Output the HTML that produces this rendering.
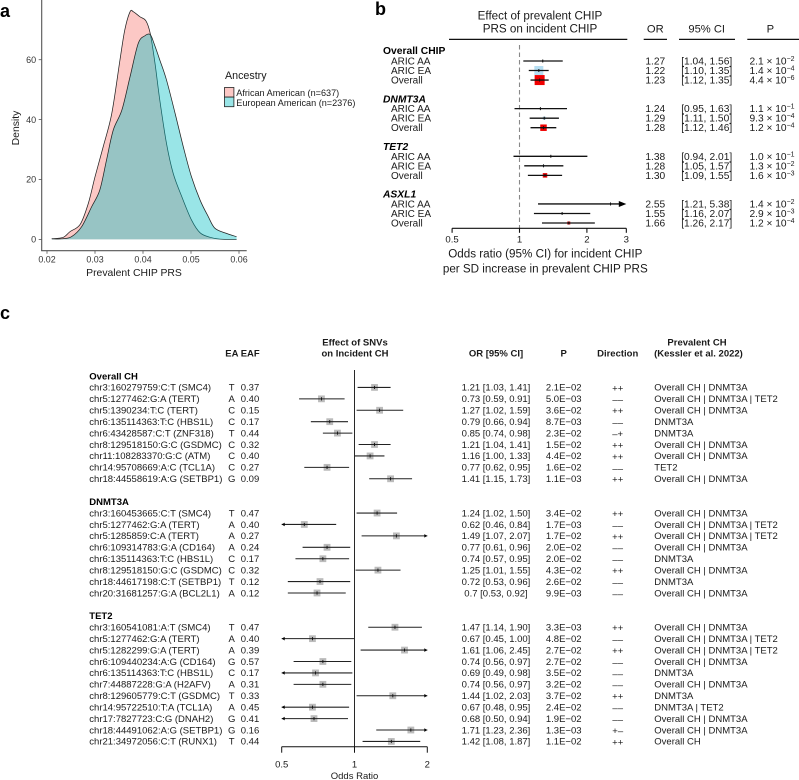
<!DOCTYPE html>
<html lang="en">
<head>
<meta charset="utf-8">
<title>Prevalent and incident CHIP figure</title>
<style>
html,body{margin:0;padding:0;background:#fff;}
svg{display:block;font-family:"Liberation Sans",Arial,sans-serif;filter:blur(0.3px);}
text{fill:#1a1a1a;}
</style>
</head>
<body>
<svg id="fig" xmlns="http://www.w3.org/2000/svg" width="799" height="780" viewBox="0 0 799 780">
  <rect x="0" y="0" width="799" height="780" fill="#fff"/>
  <text x="0" y="17" font-size="18" font-weight="bold" style="fill:#000">a</text>
  <text x="375" y="15" font-size="18" font-weight="bold" style="fill:#000">b</text>
  <text x="0" y="319" font-size="18" font-weight="bold" style="fill:#000">c</text>

  <g id="panelA">
    <text x="134" y="276" font-size="10.4" text-anchor="middle">Prevalent CHIP PRS</text>
    <text transform="translate(19,128) rotate(-90)" font-size="10.4" text-anchor="middle">Density</text>
    <text x="225" y="79" font-size="10.7">Ancestry</text>
    <rect x="224.5" y="87.5" width="9.4" height="9.6" fill="#FCC8C5" stroke="#222" stroke-width="0.8"/>
    <rect x="224.5" y="97.1" width="9.4" height="9.6" fill="#99E5E7" stroke="#222" stroke-width="0.8"/>
    <text x="236.3" y="95.8" font-size="9.1">African American (n=637)</text>
    <text x="236.3" y="105.8" font-size="9.1">European American (n=2376)</text>
  </g>

  <g id="panelB">
    <text x="540" y="19.3" font-size="11.65" text-anchor="middle">Effect of prevalent CHIP</text>
    <text x="540" y="32.7" font-size="11.65" text-anchor="middle">PRS on incident CHIP</text>
    <text x="655.3" y="32.7" font-size="11.2" text-anchor="middle">OR</text>
    <text x="706.7" y="32.7" font-size="11.2" text-anchor="middle">95% CI</text>
    <text x="770.3" y="32.7" font-size="11.2" text-anchor="middle">P</text>
    <line x1="449" x2="627.3" y1="39.4" y2="39.4" stroke="#111" stroke-width="1.2"/>
    <line x1="643.7" x2="667" y1="39.4" y2="39.4" stroke="#111" stroke-width="1.2"/>
    <line x1="679" x2="735" y1="39.4" y2="39.4" stroke="#111" stroke-width="1.2"/>
    <line x1="747.3" x2="799" y1="39.4" y2="39.4" stroke="#111" stroke-width="1.2"/>
    <text x="545.3" y="257.3" font-size="11.65" text-anchor="middle">Odds ratio (95% CI) for incident CHIP</text>
    <text x="545.3" y="272.3" font-size="11.65" text-anchor="middle">per SD increase in prevalent CHIP PRS</text>
  </g>

  <g id="panelC">
    <g font-size="9.5" font-weight="bold">
      <text x="225.3" y="356.7">EA</text>
      <text x="240.7" y="356.7">EAF</text>
      <text x="355" y="345.3" text-anchor="middle">Effect of SNVs</text>
      <text x="355" y="356.7" text-anchor="middle">on Incident CH</text>
      <text x="496" y="356.7" text-anchor="middle">OR [95% CI]</text>
      <text x="563.7" y="356.7" text-anchor="middle">P</text>
      <text x="617.7" y="356.7" text-anchor="middle">Direction</text>
      <text x="697" y="345.3" text-anchor="middle">Prevalent CH</text>
      <text x="698.5" y="356.7" text-anchor="middle">(Kessler et al. 2022)</text>
    </g>
    <text x="354.5" y="779" font-size="9.5" text-anchor="middle">Odds Ratio</text>
  </g>
</svg>

<script>
// ---------- Panel a: density curves ----------
var densityXTicks = [0.02, 0.03, 0.04, 0.05, 0.06];
var densityYTicks = [0, 20, 40, 60];
var africanPrs = [0.0210,0.0234,0.0248,0.0269,0.0286,0.0300,0.0317,0.0335,0.0352,0.0362,0.0373,0.0380,0.0394,0.0406,0.0415,0.0425,0.0435,0.0449,0.0463,0.0481,0.0501,0.0519,0.0540,0.0560,0.0595];
var africanDensity = [0.2,0.7,2.6,5.0,12.0,20.9,30.9,42.1,59.9,69.9,76.0,76.0,74.3,73.0,68.8,58.8,46.5,32.0,22.0,14.2,6.5,2.2,0.7,0.1,0.0];
var europeanPrs = [0.0210,0.0231,0.0251,0.0272,0.0293,0.0310,0.0324,0.0338,0.0356,0.0373,0.0390,0.0404,0.0415,0.0423,0.0435,0.0449,0.0467,0.0484,0.0501,0.0519,0.0536,0.0550,0.0574,0.0595];
var europeanDensity = [0.2,0.2,0.9,4.2,10.9,16.5,26.5,36.5,43.2,54.3,65.4,68.0,68.4,65.4,59.9,53.2,42.0,30.9,20.9,13.1,7.6,3.7,2.0,0.9];

// ---------- Panel b: PRS forest ----------
var prsGroups = ["Overall CHIP", "DNMT3A", "TET2", "ASXL1"];
var prsCohorts = ["ARIC AA", "ARIC EA", "Overall"];
var prsOr = [1.27,1.22,1.23, 1.24,1.29,1.28, 1.38,1.28,1.30, 2.55,1.55,1.66];
var prsLow = [1.04,1.10,1.12, 0.95,1.11,1.12, 0.94,1.05,1.09, 1.21,1.16,1.26];
var prsHigh = [1.56,1.35,1.35, 1.63,1.50,1.46, 2.01,1.57,1.55, 5.38,2.07,2.17];
var prsPMantissa = ["2.1","1.4","4.4", "1.1","9.3","1.2", "1.0","1.3","1.6", "1.4","2.9","1.2"];
var prsPExponent = [-2,-4,-6, -1,-4,-4, -1,-2,-3, -2,-3,-4];
var prsWeight = [2,81,100, 2,9,42, 1,4,20, 1,1,9];
var prsAxisTicks = [0.5, 1, 2, 3];

// ---------- Panel c: SNV forest ----------
var snvGroups = ["Overall CH", "DNMT3A", "TET2"];
var snvGroupSizes = [9, 8, 11];
var snvLabels = [
"chr3:160279759:C:T (SMC4)","chr5:1277462:G:A (TERT)","chr5:1390234:T:C (TERT)","chr6:135114363:T:C (HBS1L)","chr6:43428587:C:T (ZNF318)","chr8:129518150:G:C (GSDMC)","chr11:108283370:G:C (ATM)","chr14:95708669:A:C (TCL1A)","chr18:44558619:A:G (SETBP1)",
"chr3:160453665:C:T (SMC4)","chr5:1277462:G:A (TERT)","chr5:1285859:C:A (TERT)","chr6:109314783:G:A (CD164)","chr6:135114363:T:C (HBS1L)","chr8:129518150:G:C (GSDMC)","chr18:44617198:C:T (SETBP1)","chr20:31681257:G:A (BCL2L1)",
"chr3:160541081:A:T (SMC4)","chr5:1277462:G:A (TERT)","chr5:1282299:G:A (TERT)","chr6:109440234:A:G (CD164)","chr6:135114363:T:C (HBS1L)","chr7:44887228:G:A (H2AFV)","chr8:129605779:C:T (GSDMC)","chr14:95722510:T:A (TCL1A)","chr17:7827723:C:G (DNAH2)","chr18:44491062:A:G (SETBP1)","chr21:34972056:C:T (RUNX1)"];
var snvEffectAllele = ["T","A","C","C","T","C","C","C","G", "T","A","A","A","C","C","T","A", "T","A","A","G","C","A","T","A","G","G","T"];
var snvEaf = ["0.37","0.40","0.15","0.17","0.44","0.32","0.40","0.27","0.09", "0.47","0.40","0.27","0.24","0.17","0.32","0.12","0.12", "0.47","0.40","0.39","0.57","0.17","0.31","0.33","0.45","0.41","0.16","0.44"];
var snvOr = [1.21,0.73,1.27,0.79,0.85,1.21,1.16,0.77,1.41, 1.24,0.62,1.49,0.77,0.74,1.25,0.72,0.7, 1.47,0.67,1.61,0.74,0.69,0.74,1.44,0.67,0.68,1.71,1.42];
var snvLow = [1.03,0.59,1.02,0.66,0.74,1.04,1.00,0.62,1.15, 1.02,0.46,1.07,0.61,0.57,1.01,0.53,0.53, 1.14,0.45,1.06,0.56,0.49,0.56,1.02,0.48,0.50,1.23,1.08];
var snvHigh = [1.41,0.91,1.59,0.94,0.98,1.41,1.33,0.95,1.73, 1.50,0.84,2.07,0.96,0.95,1.55,0.96,0.92, 1.90,1.00,2.45,0.97,0.98,0.97,2.03,0.95,0.94,2.36,1.87];
var snvP = ["2.1E−02","5.0E−03","3.6E−02","8.7E−03","2.3E−02","1.5E−02","4.4E−02","1.6E−02","1.1E−03", "3.4E−02","1.7E−03","1.7E−02","2.0E−02","2.0E−02","4.3E−02","2.6E−02","9.9E−03", "3.3E−03","4.8E−02","2.7E−02","2.7E−02","3.5E−02","3.2E−02","3.7E−02","2.4E−02","1.9E−02","1.3E−03","1.1E−02"];
var snvDirection = ["++","––","++","––","–+","++","++","––","++", "++","––","++","––","––","++","––","––", "++","––","++","––","––","––","++","––","––","+–","++"];
var snvPrevalent = ["Overall CH | DNMT3A","Overall CH | DNMT3A | TET2","Overall CH | DNMT3A","DNMT3A","DNMT3A","Overall CH | DNMT3A","Overall CH | DNMT3A","TET2","Overall CH | DNMT3A",
"Overall CH | DNMT3A","Overall CH | DNMT3A | TET2","Overall CH | DNMT3A | TET2","Overall CH | DNMT3A","DNMT3A","Overall CH | DNMT3A","DNMT3A","Overall CH | DNMT3A",
"Overall CH | DNMT3A","Overall CH | DNMT3A | TET2","Overall CH | DNMT3A | TET2","Overall CH | DNMT3A","DNMT3A","Overall CH | DNMT3A","DNMT3A","DNMT3A | TET2","Overall CH | DNMT3A","Overall CH | DNMT3A","Overall CH"];
var snvAxisTicks = [0.5, 1, 2];

var NS = "http://www.w3.org/2000/svg";
function make(parent, tag, name, attrs, content) {
  var el = document.createElementNS(NS, tag);
  for (var k in attrs) { el.setAttribute(k, attrs[k]); }
  
  
  if (content !== undefined) { el.textContent = content; }
  parent.appendChild(el);
  return el;
}
function line(parent, name, x1, y1, x2, y2, color, width) {
  return make(parent, "line", name, {x1:x1, y1:y1, x2:x2, y2:y2, stroke:color, "stroke-width":width});
}
function label(parent, name, x, y, size, anchor, content, extra) {
  var a = {x:x, y:y, "font-size":size, "text-anchor":anchor};
  for (var k in (extra || {})) { a[k] = extra[k]; }
  return make(parent, "text", name, a, content);
}

// ---- Panel a drawing ----
var panelA = document.getElementById("panelA");
function densX(v) { return 47 + (v - 0.02) * 4800; }
function densY(v) { return 239.4 - v * 2.995; }
function curveD(xs, ys) {
  var pts = xs.map(function (x, i) { return [densX(x), densY(ys[i])]; });
  var d = "M" + pts[0][0].toFixed(2) + " " + pts[0][1].toFixed(2);
  for (var i = 0; i < pts.length - 1; i++) {
    var p0 = pts[Math.max(0, i - 1)], p1 = pts[i], p2 = pts[i + 1], p3 = pts[Math.min(pts.length - 1, i + 2)];
    var c1x = p1[0] + (p2[0] - p0[0]) / 6, c1y = p1[1] + (p2[1] - p0[1]) / 6;
    var c2x = p2[0] - (p3[0] - p1[0]) / 6, c2y = p2[1] - (p3[1] - p1[1]) / 6;
    d += "C" + c1x.toFixed(2) + " " + c1y.toFixed(2) + " " + c2x.toFixed(2) + " " + c2y.toFixed(2) + " " + p2[0].toFixed(2) + " " + p2[1].toFixed(2);
  }
  return d;
}
function drawDensity(name, xs, ys, color) {
  var d = curveD(xs, ys);
  var base = " L" + densX(xs[xs.length - 1]).toFixed(2) + " " + densY(0) + " L" + densX(xs[0]).toFixed(2) + " " + densY(0) + "Z";
  make(panelA, "path", name + "-fill", {d: d + base, fill: color, "fill-opacity": 0.4, stroke: "none"});
  make(panelA, "path", name + "-line", {d: d, fill: "none", stroke: "#222", "stroke-width": 0.75});
}
drawDensity("density-african-american", africanPrs, africanDensity, "#F8766D");
drawDensity("density-european-american", europeanPrs, europeanDensity, "#00BFC4");
line(panelA, "density-y-axis", 41.7, 0, 41.7, 251, "#555", 1.1);
line(panelA, "density-x-axis", 41.2, 250.7, 246.7, 250.7, "#555", 1.1);
densityYTicks.forEach(function (t) {
  line(panelA, "density-y-tick", 38.7, densY(t), 41.7, densY(t), "#555", 0.8);
  label(panelA, "density-y-tick-label", 36.2, densY(t) + 3.2, 9, "end", String(t), {style: "fill:#333"});
});
densityXTicks.forEach(function (t) {
  line(panelA, "density-x-tick", densX(t), 250.7, densX(t), 253.7, "#555", 0.8);
  label(panelA, "density-x-tick-label", densX(t), 262.7, 8.9, "middle", t.toFixed(2), {style: "fill:#333"});
});

// ---- Panel b drawing ----
var panelB = document.getElementById("panelB");
function prsX(v) { return 519.5 + 67.4 * Math.log2(v); }
function prsRowY(n) { return 61 + 9.53 * (n - 1); }
var prsAxisMax = prsAxisTicks[prsAxisTicks.length - 1];
make(panelB, "line", "reference-line-or-1", {x1: prsX(1), x2: prsX(1), y1: 45, y2: 228, stroke: "#888", "stroke-width": 1.1, "stroke-dasharray": "4.5 3"});
prsGroups.forEach(function (g, gi) {
  var base = gi * 5;
  label(panelB, "group-label-" + g.toLowerCase().replace(/\s+/g, "-"), 383, prsRowY(base) + (gi === 0 ? 2.3 : 3.3), 10.3, "start", g,
    {"font-weight": "bold", "font-style": gi === 0 ? "normal" : "italic", style: "fill:#000"});
  prsCohorts.forEach(function (c, ci) {
    var i = gi * 3 + ci, y = prsRowY(base + ci + 1);
    label(panelB, "cohort-label", 391, y + 3.5, 10, "start", c);
    var hiClipped = prsHigh[i] > prsAxisMax;
    var x1 = prsX(prsLow[i]), x2 = hiClipped ? prsX(prsAxisMax) : prsX(prsHigh[i]), xm = prsX(prsOr[i]);
    var size = Math.sqrt(prsWeight[i]);
    var boxColor = ci === 2 ? "#f00000" : (ci === 1 ? "#b5def2" : "#9a9a9a");
    make(panelB, "rect", "effect-box", {x: xm - size / 2, y: y - size / 2, width: size, height: size, fill: boxColor});
    line(panelB, "confidence-interval", x1, y, hiClipped ? x2 - 4 : x2, y, "#111", 1.3);
    line(panelB, "point-estimate-tick", xm, y - 1.5, xm, y + 1.5, "#111", 1);
    if (hiClipped) {
      make(panelB, "path", "clipped-ci-arrow", {d: "M" + x2 + " " + y + "l-7.5 -3v6z", fill: "#000"});
    }
    label(panelB, "or-value", 655.3, y + 3.5, 10.2, "middle", prsOr[i].toFixed(2));
    var ci95 = label(panelB, "ci-value", 706.7, y + 3.5, 10.2, "middle", "[" + prsLow[i].toFixed(2) + ", " + prsHigh[i].toFixed(2) + "]");
    ci95.setAttribute("textLength", "51");
    var p = label(panelB, "p-value", 772, y + 3.5, 10.2, "middle", prsPMantissa[i] + " × 10");
    var sup = document.createElementNS(NS, "tspan");
    sup.setAttribute("dy", "-3.5");
    sup.setAttribute("font-size", "7");
    sup.textContent = "−" + Math.abs(prsPExponent[i]);
    p.appendChild(sup);
  });
});
line(panelB, "forest-x-axis", prsX(0.5), 228.3, prsX(prsAxisMax), 228.3, "#111", 1.1);
prsAxisTicks.forEach(function (t) {
  line(panelB, "forest-x-tick", prsX(t), 228.3, prsX(t), 232.8, "#111", 1.1);
  label(panelB, "forest-x-tick-label", prsX(t), 242.7, 9.6, "middle", String(t));
});

// ---- Panel c drawing ----
var panelC = document.getElementById("panelC");
var snvMin = snvAxisTicks[0], snvMax = snvAxisTicks[snvAxisTicks.length - 1];
function snvX(v) { return 354.5 + 72.8 * Math.log2(v); }
function snvRowY(n) { return 376 + 11.42 * n; }
line(panelC, "reference-line-or-1", snvX(1), 370, snvX(1), 746.7, "#111", 0.9);
var rowIndex = 0, itemIndex = 0;
snvGroups.forEach(function (g, gi) {
  label(panelC, "snv-group-label", 89.3, snvRowY(rowIndex) + 3.3, 9.5, "start", g, {"font-weight": "bold", style: "fill:#000"});
  rowIndex++;
  for (var j = 0; j < snvGroupSizes[gi]; j++) {
    var i = itemIndex, y = snvRowY(rowIndex), ty = y + 3.3;
    label(panelC, "snv-label", 89.3, ty, 9.5, "start", snvLabels[i]);
    label(panelC, "effect-allele", 231.7, ty, 9.5, "middle", snvEffectAllele[i]);
    label(panelC, "effect-allele-frequency", 250, ty, 9.5, "middle", snvEaf[i]);
    var loClip = snvLow[i] <= snvMin, hiClip = snvHigh[i] >= snvMax;
    var x1 = loClip ? snvX(snvMin) : snvX(snvLow[i]);
    var x2 = hiClip ? snvX(snvMax) : snvX(snvHigh[i]);
    var xm = snvX(snvOr[i]);
    make(panelC, "rect", "snv-effect-box", {x: xm - 3.4, y: y - 3.4, width: 6.8, height: 6.8, fill: "#bcbcbc"});
    line(panelC, "snv-confidence-interval", x1, y, x2, y, "#222", 1.05);
    line(panelC, "snv-point-estimate-tick", xm, y - 1.6, xm, y + 1.6, "#111", 0.9);
    if (loClip) {
      make(panelC, "path", "snv-clipped-low-arrow", {d: "M" + x1 + " " + y + "l3 -1.8v3.6z", fill: "#000"});
    }
    if (hiClip) {
      make(panelC, "path", "snv-clipped-high-arrow", {d: "M" + x2 + " " + y + "l-3 -1.8v3.6z", fill: "#000"});
    }
    label(panelC, "snv-or-ci", 496, ty, 9.5, "middle", String(snvOr[i]) + " [" + snvLow[i].toFixed(2) + ", " + snvHigh[i].toFixed(2) + "]");
    label(panelC, "snv-p-value", 563.7, ty, 9.5, "middle", snvP[i]);
    label(panelC, "snv-direction", 617.7, ty + 0.6, 9.5, "middle", snvDirection[i]);
    label(panelC, "snv-prevalent-ch", 654.3, ty, 9.5, "start", snvPrevalent[i]);
    rowIndex++;
    itemIndex++;
  }
  rowIndex++;
});
line(panelC, "snv-x-axis", snvX(snvMin), 746.7, snvX(snvMax), 746.7, "#111", 1);
snvAxisTicks.forEach(function (t) {
  line(panelC, "snv-x-tick", snvX(t), 746.7, snvX(t), 752.7, "#111", 1);
  label(panelC, "snv-x-tick-label", snvX(t), 767.7, 9.5, "middle", String(t));
});
</script>
</body>
</html>
